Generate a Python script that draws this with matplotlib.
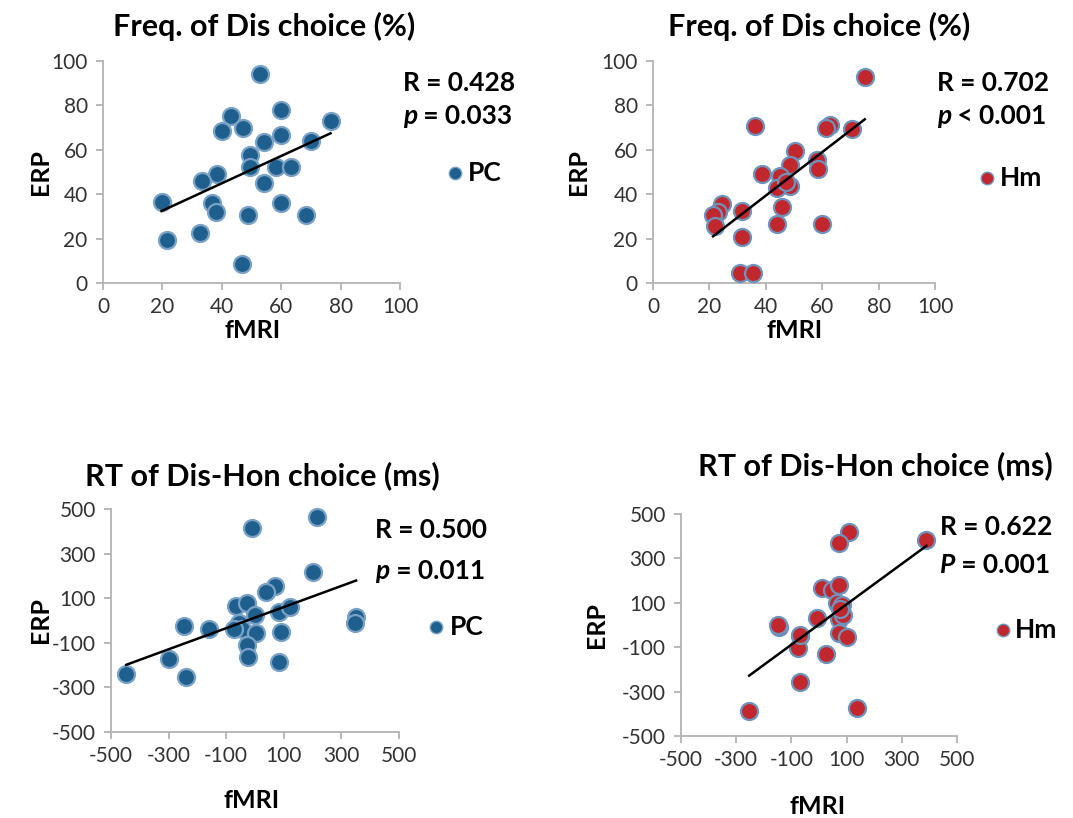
"""
plot.py

Four fMRI vs ERP scatter plots (PC / Hm groups) with linear fits.
Output: out.png
"""

import numpy as np
import matplotlib
matplotlib.use("Agg")
import matplotlib.pyplot as plt

plt.rcParams["axes.unicode_minus"] = False

W, H = 1073, 818
FONT = ["Lato", "DejaVu Sans"]

BLUE = "#1f5f8e"
BLUE_EDGE = "#7aa2c6"
RED = "#c1272d"
RED_EDGE = "#6e93bd"
SPINE = "#b3b3b3"
TICK_TEXT = "#333333"

# --- panel 1: Freq. of Dis choice, PC ---
freq_pc_fmri = [53.0, 43.2, 59.9, 76.6, 40.0, 47.1, 59.9, 70.1, 54.3, 49.6, 49.6, 58.4, 63.3,
                38.3, 33.2, 54.1, 19.7, 36.6, 38.1, 59.9, 48.7, 68.4, 21.6, 32.5, 46.8]
freq_pc_erp = [94.0, 75.2, 78.1, 72.8, 68.5, 69.8, 66.8, 64.0, 63.5, 57.8, 52.3, 52.3, 52.3,
               49.2, 45.8, 45.2, 36.5, 36.0, 32.0, 36.0, 30.5, 30.5, 19.5, 22.5, 8.7]

# --- panel 2: Freq. of Dis choice, Hm ---
freq_hm_fmri = [75.1, 36.1, 62.7, 61.3, 70.4, 50.3, 58.2, 48.5, 58.6, 38.5, 45.0, 48.5, 43.8,
                47.3, 45.9, 24.3, 23.1, 21.3, 31.7, 21.9, 43.8, 60.1, 31.7, 31.0, 35.3]
freq_hm_erp = [92.8, 70.6, 71.0, 69.8, 69.5, 59.5, 55.3, 53.3, 51.4, 48.9, 48.2, 43.8, 42.9,
               45.5, 34.2, 35.7, 32.0, 30.8, 32.4, 25.7, 26.6, 26.4, 20.7, 4.5, 4.5]

# --- panel 3: RT of Dis-Hon choice, PC ---
rt_pc_fmri = [215, -10, 200, 71, 38, -65, -28, 1, 85, 123, 351, 346, -245, -161,
              -57, -45, -72, 5, 91, -28, -26, 82, -300, -447, -240]
rt_pc_erp = [466, 413, 219, 155, 129, 65, 80, 25, 39, 59, 17, -10, -25, -40,
             -13, -39, -39, -55, -50, -110, -162, -185, -173, -241, -255]

# --- panel 4: RT of Dis-Hon choice, Hm ---
rt_hm_fmri = [109, 71, 389, 10, 47, 72, 65, 83, 72, 86, -8, 72, 101, -144, -148,
              -69, -75, 27, -69, -253, 138, 75, -70]
rt_hm_erp = [417, 371, 383, 166, 157, 180, 98, 89, 26, 44, 31, -37, -55, -8, -2,
             -50, -103, -129, -259, -387, -374, 70, -45]

freq_ticks = [0, 20, 40, 60, 80, 100]
rt_ticks = [-500, -300, -100, 100, 300, 500]

titles = ["Freq. of Dis choice (%)", "Freq. of Dis choice (%)",
          "RT of Dis-Hon choice (ms)", "RT of Dis-Hon choice (ms)"]
stat_r = ["R = 0.428", "R = 0.702", "R = 0.500", "R = 0.622"]
stat_p = [("p", " = 0.033"), ("p", " < 0.001"), ("p", " = 0.011"), ("P", " = 0.001")]
groups = ["PC", "Hm", "PC", "Hm"]


def px(x, y):
    """Pixel position -> figure fraction."""
    return x / W, 1 - y / H


def make_axes(fig, left, top, right, bottom):
    x0, y0 = px(left, bottom)
    x1, y1 = px(right, top)
    return fig.add_axes([x0, y0, x1 - x0, y1 - y0])


def style_axes(ax, ticks):
    ax.set_xlim(ticks[0], ticks[-1])
    ax.set_ylim(ticks[0], ticks[-1])
    ax.set_xticks(ticks)
    ax.set_yticks(ticks)
    for side in ["top", "right"]:
        ax.spines[side].set_visible(False)
    for side in ["left", "bottom"]:
        ax.spines[side].set_color(SPINE)
        ax.spines[side].set_linewidth(1.3)
    ax.tick_params(direction="out", length=5, width=1.3, color=SPINE,
                   labelsize=15, labelcolor=TICK_TEXT, pad=6)
    ax.tick_params(axis="x", pad=5)
    for lab in ax.get_xticklabels() + ax.get_yticklabels():
        lab.set_family(FONT)
    ax.patch.set_alpha(0)


def draw_panel(ax, x, y, color, edge):
    x = np.asarray(x, float)
    y = np.asarray(y, float)
    ax.scatter(x, y, s=150, c=color, edgecolors=edge, linewidths=1.6,
               zorder=3, clip_on=False)
    slope, icpt = np.polyfit(x, y, 1)
    xs = np.array([x.min(), x.max()])
    ax.plot(xs, slope * xs + icpt, color="black", lw=1.8, zorder=4)


def annotate(ax, idx, r_pos, p_pos, leg_pos, color, edge):
    ax.text(r_pos[0], r_pos[1], stat_r[idx], transform=ax.transAxes, fontsize=19,
            fontweight="bold", family=FONT, va="center", ha="left")
    letter, rest = stat_p[idx]
    p_txt = ax.text(p_pos[0], p_pos[1], letter, transform=ax.transAxes, fontsize=19,
                    fontweight="bold", fontstyle="italic", family=FONT,
                    va="center", ha="left")
    ax.annotate(rest, xy=(1, 0.5), xycoords=p_txt, fontsize=19, fontweight="bold",
                family=FONT, va="center", ha="left")
    ax.scatter([leg_pos[0]], [leg_pos[1]], s=80, c=color, edgecolors=edge,
               linewidths=1.0, transform=ax.transAxes, clip_on=False, zorder=5)
    ax.text(leg_pos[0] + 0.045, leg_pos[1], groups[idx], transform=ax.transAxes,
            fontsize=19, fontweight="bold", family=FONT, va="center", ha="left")


def main():
    fig = plt.figure(figsize=(W / 100, H / 100), dpi=100)

    ax1 = make_axes(fig, 103, 61, 400, 283)
    ax2 = make_axes(fig, 653, 61, 935, 283)
    ax3 = make_axes(fig, 111, 509, 399, 732)
    ax4 = make_axes(fig, 681, 514, 957, 736)

    style_axes(ax1, freq_ticks)
    style_axes(ax2, freq_ticks)
    style_axes(ax3, rt_ticks)
    style_axes(ax4, rt_ticks)

    draw_panel(ax1, freq_pc_fmri, freq_pc_erp, BLUE, BLUE_EDGE)
    draw_panel(ax2, freq_hm_fmri, freq_hm_erp, RED, RED_EDGE)
    draw_panel(ax3, rt_pc_fmri, rt_pc_erp, BLUE, BLUE_EDGE)
    draw_panel(ax4, rt_hm_fmri, rt_hm_erp, RED, RED_EDGE)

    annotate(ax1, 0, (1.01, 0.899), (1.01, 0.752), (1.185, 0.495), BLUE, BLUE_EDGE)
    annotate(ax2, 1, (1.007, 0.899), (1.007, 0.752), (1.185, 0.473), RED, RED_EDGE)
    annotate(ax3, 2, (0.918, 0.905), (0.918, 0.723), (1.13, 0.472), BLUE, BLUE_EDGE)
    annotate(ax4, 3, (0.937, 0.941), (0.937, 0.770), (1.165, 0.477), RED, RED_EDGE)

    # titles and axis labels placed in figure pixels
    title_pos = [(264, 26), (819, 26), (262, 476), (875, 466)]
    for (tx, ty), title in zip(title_pos, titles):
        fig.text(*px(tx, ty), title, fontsize=22, fontweight="bold", family=FONT,
                 ha="center", va="center")

    for tx, ty in [(253, 330), (795, 330), (252, 801), (818, 806)]:
        fig.text(*px(tx, ty), "fMRI", fontsize=18, fontweight="bold", family=FONT,
                 ha="center", va="center")
    for tx, ty in [(40, 172), (578, 172), (40, 620), (597, 625)]:
        fig.text(*px(tx, ty), "ERP", fontsize=18, fontweight="bold", family=FONT,
                 ha="center", va="center", rotation=90)

    fig.savefig("out.png", dpi=100)
    plt.close(fig)


if __name__ == "__main__":
    main()
